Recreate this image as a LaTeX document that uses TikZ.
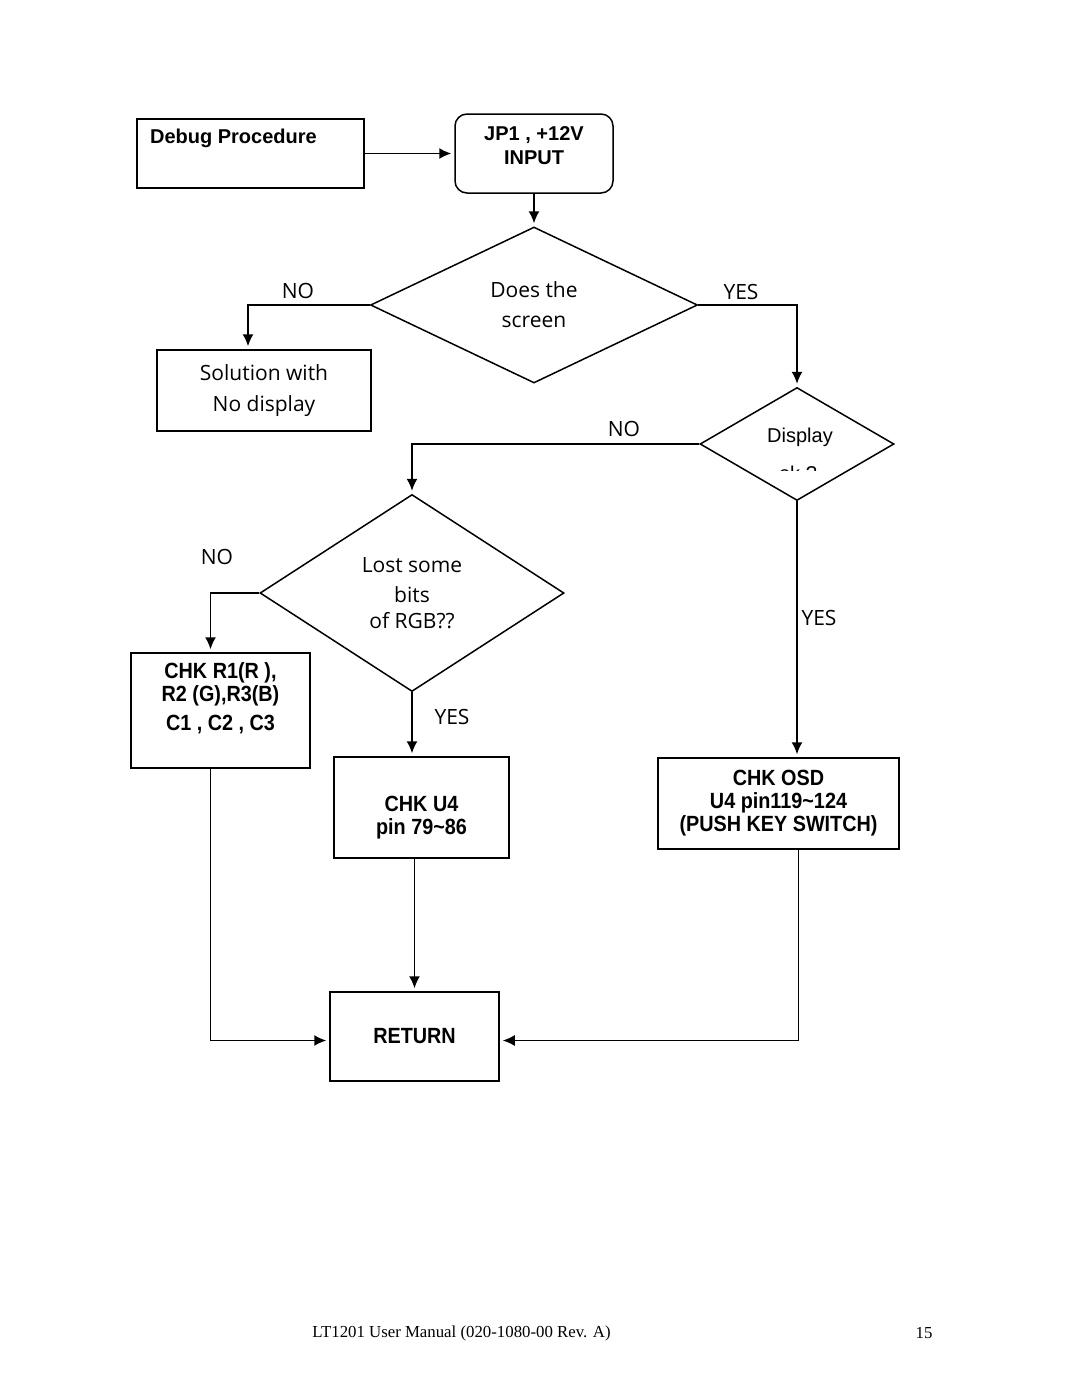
\documentclass[tikz,border=0pt]{standalone}
\usepackage{fontspec}
\setmainfont{Liberation Sans}
\newfontfamily\humanist{Open Sans}
\newfontfamily\narrowsans[FakeStretch=0.9]{Liberation Sans}
\newfontfamily\footfont{Liberation Serif}
\usetikzlibrary{shapes.geometric, arrows.meta}
\tikzstyle{process} = [rectangle, draw, line width=0.75pt, align=center, font=\narrowsans\bfseries\fontsize{11}{11.5}\selectfont]
\tikzstyle{plainbox} = [rectangle, draw, line width=0.75pt, align=center, font=\humanist\fontsize{10.5}{15.5}\selectfont]
\tikzstyle{decision} = [diamond, draw, line width=0.75pt, inner sep=0pt, align=center, font=\humanist\fontsize{10.5}{15}\selectfont]
\tikzstyle{boxtext} = [align=center, font=\narrowsans\bfseries\fontsize{11}{11.5}\selectfont]
\tikzstyle{answer} = [font=\humanist\fontsize{10.5}{12}\selectfont]
\tikzstyle{arrow} = [line width=0.75pt,->,>={Latex[length=6pt,width=5.5pt]},shorten >=1.5pt]

\begin{document}
\begin{tikzpicture}[x=0.5pt, y=-0.5pt]
                 \useasboundingbox (0,0) rectangle (1080,1397);
                 \node [process, minimum width=113.5pt, minimum height=34.5pt] at (250.5,153.5) (debug) {};
                 \node [boxtext, font=\bfseries\fontsize{10}{12}\selectfont, anchor=west] at (143,138) (debugtext) {Debug Procedure};
                 \node [process, rounded corners=6pt, minimum width=79pt, minimum height=39.5pt] at (534,153.5) (jp1) {};
                 \node [boxtext, font=\bfseries\fontsize{10}{12}\selectfont] at (534,146) (jp1text) {JP1 , +12V\\INPUT};
                 \node [decision, minimum width=163.5pt, minimum height=78pt] at (534,305) (screen) {Does the\\screen};
                 \node [plainbox, minimum width=107pt, minimum height=40.5pt] at (264,390.5) (nodisp) {Solution with\\No display};
                 \node [decision, minimum width=97pt, minimum height=56.5pt] at (797,444) (display) {};
                 \node [font=\fontsize{10}{12}\selectfont] at (800,437) (displaytext) {Display};
                 \begin{scope}
                 \clip (740,455) rectangle (860,470);
                 \node [font=\fontsize{10}{12}\selectfont] at (798,473) (displayok) {ok ?};
                 \end{scope}
                 \node [decision, minimum width=152pt, minimum height=98.5pt, font=\humanist\fontsize{10.5}{13}\selectfont] at (412,593) (lost) {Lost some\\[2pt]bits\\of RGB??};
                 \node [process, minimum width=89.5pt, minimum height=57.5pt] at (220.5,710.5) (chkr) {};
                 \node [boxtext] at (220.5,698) (chkrtext) {CHK R1(R ),\\R2 (G),R3(B)\\[3pt]C1 , C2 , C3};
                 \node [process, minimum width=87.5pt, minimum height=50.5pt] at (421.5,807.5) (chku) {};
                 \node [boxtext] at (421.5,818) (chkutext) {CHK U4\\pin 79\textasciitilde86};
                 \node [process, minimum width=120.5pt, minimum height=45.5pt] at (778.5,803.5) (chkosd) {CHK OSD\\U4 pin119\textasciitilde124\\(PUSH KEY SWITCH)};
                 \node [process, minimum width=84.5pt, minimum height=44.5pt] at (414.5,1036.5) (ret) {\raisebox{-2.5pt}{RETURN}};
                 % branch labels
                 \node [answer] at (298,291) (no1) {NO};
                 \node [answer] at (741,292) (yes1) {YES};
                 \node [answer] at (624,429) (no2) {NO};
                 \node [answer] at (217,557) (no3) {NO};
                 \node [answer] at (819,618) (yes2) {YES};
                 \node [answer] at (452,717) (yes3) {YES};
                 % connectors
                 \draw [arrow] (debug.east) -- (jp1.west);
                 \draw [arrow] (jp1.south) -- (screen.north);
                 \draw [arrow] (screen.west) -| ([xshift=-8pt]nodisp.north);
                 \draw [arrow] (screen.east) -| (display.north);
                 \draw [arrow] (display.west) -| (lost.north);
                 \draw [arrow] (lost.west) -| ([xshift=-5pt]chkr.north);
                 \draw [arrow] (lost.south) -- (lost.south |- chku.north);
                 \draw [arrow] (display.south) -- (display.south |- chkosd.north);
                 \draw [arrow] (ret.north |- chku.south) -- (ret.north);
                 \draw [arrow] ([xshift=-5pt]chkr.south) |- ([yshift=-2pt]ret.west);
                 \draw [arrow] ([xshift=10pt]chkosd.south) |- ([yshift=-2pt]ret.east);
                 % page footer
                 \node [font=\footfont\fontsize{8.4}{10}\selectfont] at (461.5,1333) (footer) {LT1201 User Manual (020-1080-00 Rev. A)};
                 \node [font=\footfont\fontsize{8.4}{10}\selectfont] at (924,1333) (pageno) {15};
                 \end{tikzpicture}
\end{document}
